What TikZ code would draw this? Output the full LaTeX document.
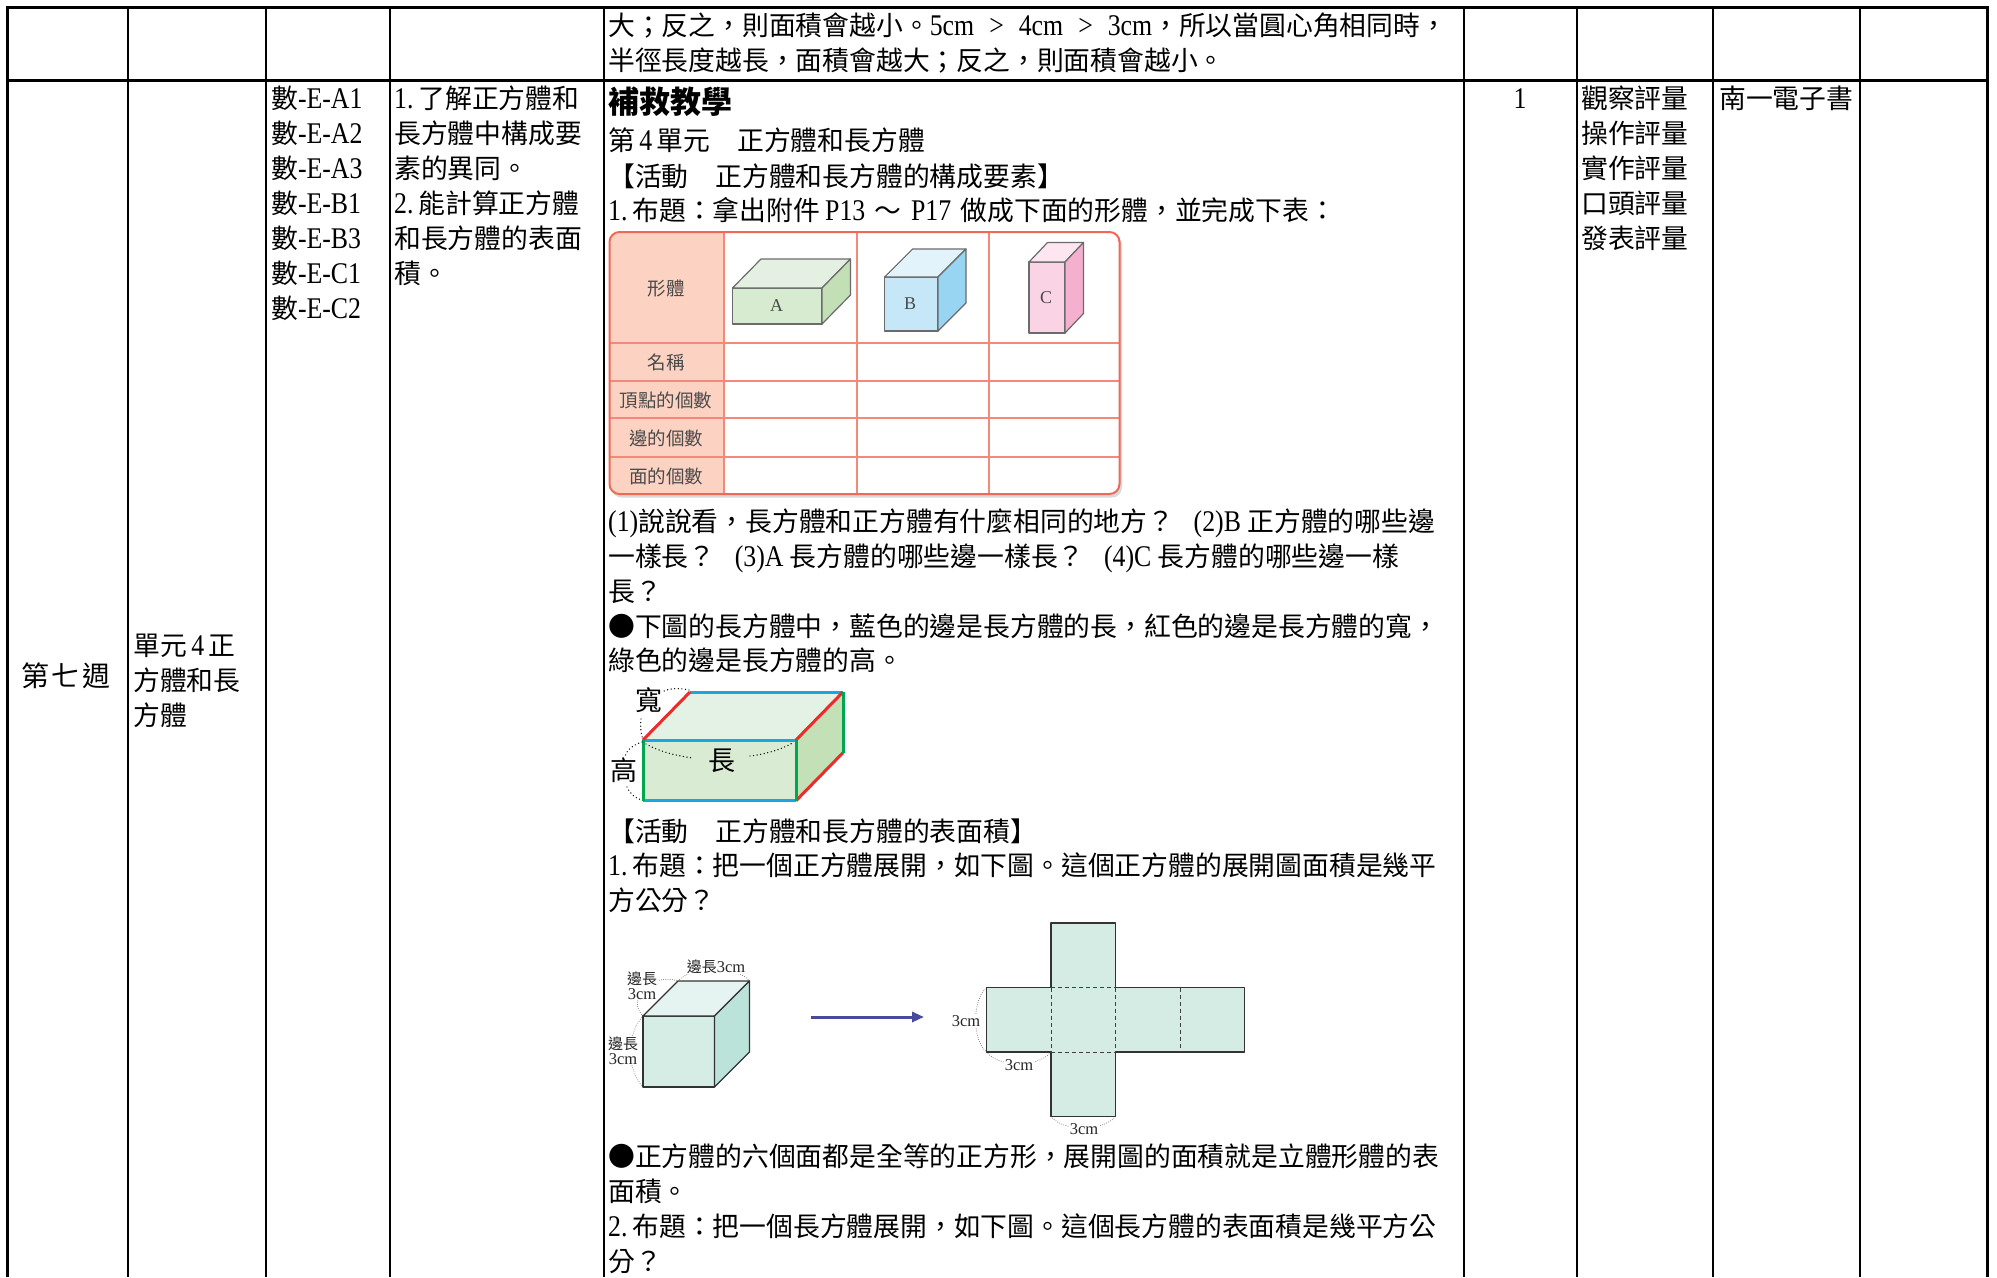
\documentclass[tikz,border=0pt]{standalone}
\usepackage{fontspec}
\setmainfont{Noto Sans CJK TC}
\newfontfamily\latfont{Liberation Serif}
\newfontfamily\latbody{Liberation Serif}[Scale=1.12, FakeStretch=0.86]
\usetikzlibrary{arrows.meta}
\newcommand\latn[1]{{\latbody #1}}
\newcommand\fsm{\fontsize{26.8pt}{35pt}\selectfont}
\definecolor{hdr}{HTML}{FCD3C2}
\definecolor{tline}{HTML}{F4897A}
\definecolor{tborder}{HTML}{EE6A55}
\definecolor{labc}{HTML}{4A4A4A}
\definecolor{Af}{HTML}{D6EBCF}
\definecolor{At}{HTML}{E4F1E2}
\definecolor{Ar}{HTML}{C2DFB6}
\definecolor{Bf}{HTML}{C6E7F8}
\definecolor{Bt}{HTML}{E2F3FC}
\definecolor{Br}{HTML}{98D5F2}
\definecolor{Cf}{HTML}{FAD4E5}
\definecolor{Ct}{HTML}{FDE6F0}
\definecolor{Cr}{HTML}{F4B0CF}
\definecolor{eblue}{HTML}{1BA6E0}
\definecolor{ered}{HTML}{EE2A2A}
\definecolor{egreen}{HTML}{00A650}
\definecolor{Lf}{HTML}{D9ECD3}
\definecolor{Lt}{HTML}{E4F2E5}
\definecolor{Lr}{HTML}{C3E0B7}
\definecolor{Kf}{HTML}{D6EDE6}
\definecolor{Kt}{HTML}{E6F4F1}
\definecolor{Kr}{HTML}{BCE3DA}
\definecolor{netc}{HTML}{D5ECE4}
\definecolor{arrc}{HTML}{4A4A9C}
\tikzset{
  t/.style={anchor=west, inner sep=0pt, font=\fsm, text height=23.6pt, text depth=3.2pt},
  tc/.style={t, anchor=center},
  gridthick/.style={line width=3pt},
  gridthin/.style={line width=2.2pt},
  lab/.style={inner sep=0pt, font=\fontsize{18.5pt}{20pt}\selectfont, text=labc, text height=16.3pt, text depth=2.2pt},
  abc/.style={inner sep=0pt, font=\latfont\fontsize{18pt}{20pt}\selectfont, text=labc},
  boxedge/.style={draw=black!58, line width=1.2pt, line join=round},
  cubeedge/.style={draw=black!80, line width=1.3pt, line join=round},
  dotline/.style={line width=1.4pt, line cap=round, dash pattern=on 0pt off 3.6pt},
  cdots/.style={draw=black!55, line width=1pt, line cap=round, dash pattern=on 0pt off 2.2pt},
  clab/.style={inner sep=0.5pt, fill=white, align=center, font=\fontsize{15pt}{17pt}\selectfont, text=black!85},
  big/.style={inner sep=0pt, font=\fontsize{27pt}{30pt}\selectfont},
}
\newcommand\cuboid[9]{%
  \filldraw[fill=#7, boxedge] (#1,#2) rectangle ++(#3,#4);
  \filldraw[fill=#8, boxedge] (#1,#2) -- ++(#5,-#6) -- ++(#3,0) -- ++(-#5,#6) -- cycle;
  \filldraw[fill=#9, boxedge] (#1+#3,#2) -- ++(#5,-#6) -- ++(0,#4) -- ++(-#5,#6) -- cycle;
}
\begin{document}
\begin{tikzpicture}[x=1pt,y=-1pt]
\useasboundingbox (0,0) rectangle (1997,1277);
\fill[white] (0,0) rectangle (1997,1277);

% ---------- table grid ----------
\draw[gridthick] (6,7) -- (1988,7);
\draw[gridthick] (6,80) -- (1988,80);
\draw[gridthick] (7,6) -- (7,1277);
\foreach \x in {128,266,390,1577,1713,1860}{\draw[gridthin] (\x,7) -- (\x,1277);}
\foreach \x in {604,1464}{\draw[line width=1.7pt] (\x,7) -- (\x,1277);}
\draw[gridthick] (1987,6) -- (1987,1277);

% ---------- top row ----------
\node[t] (r0a) at (608,25) {大；反之，則面積會越小。\latn{5cm\hspace{15pt}>\hspace{15pt}4cm\hspace{15pt}>\hspace{15pt}3cm}，所以當圓心角相同時，};
\node[t] (r0b) at (608,60) {半徑長度越長，面積會越大；反之，則面積會越小。};

% ---------- left columns ----------
\node[tc, font=\fontsize{28pt}{35pt}\selectfont, text height=24.6pt, text depth=3.4pt] (wk) at (66,676) {第\hspace{3pt}七\hspace{3pt}週};
\node[t] (u1) at (133,645) {單元\,\latn{4}\,正};
\node[t] (u2) at (133,680) {方體和長};
\node[t] (u3) at (133,715) {方體};

\node[t] (c31) at (271,98) {數\latn{-E-A1}};
\node[t] (c32) at (271,133) {數\latn{-E-A2}};
\node[t] (c33) at (271,168) {數\latn{-E-A3}};
\node[t] (c34) at (271,203) {數\latn{-E-B1}};
\node[t] (c35) at (271,238) {數\latn{-E-B3}};
\node[t] (c36) at (271,273) {數\latn{-E-C1}};
\node[t] (c37) at (271,308) {數\latn{-E-C2}};

\node[t] (c41) at (394,98) {\latn{1.\,}了解正方體和};
\node[t] (c42) at (394,133) {長方體中構成要};
\node[t] (c43) at (394,168) {素的異同。};
\node[t] (c44) at (394,203) {\latn{2.\,}能計算正方體};
\node[t] (c45) at (394,238) {和長方體的表面};
\node[t] (c46) at (394,273) {積。};

% ---------- right columns ----------
\node[tc] (c6) at (1520,98) {\latn{1}};
\node[t] (c71) at (1581,98) {觀察評量};
\node[t] (c72) at (1581,133) {操作評量};
\node[t] (c73) at (1581,168) {實作評量};
\node[t] (c74) at (1581,203) {口頭評量};
\node[t] (c75) at (1581,238) {發表評量};
\node[t] (c8) at (1719,98) {南一電子書};

% ---------- main column ----------
\node[t, font=\fontsize{31pt}{35pt}\selectfont\bfseries, text height=27pt, text depth=3.7pt] (m1) at (608,102) {補救教學};
\node[t] (m2) at (608,140) {第\,\latn{4}\,單元　正方體和長方體};
\node[t] (m3) at (608,176) {【活動　正方體和長方體的構成要素】};
\node[t] (m4) at (608,210) {\latn{1.\,}布題：拿出附件\latn{\,P13\,}\,～\,\latn{\,P17\,}\,做成下面的形體，並完成下表：};

% ---------- table figure ----------
\fill[black!15, rounded corners=10pt] (611.5,235) rectangle (1122,497.5);
\fill[white, rounded corners=10pt] (609.5,232) rectangle (1119.5,494);
\begin{scope}
  \clip[rounded corners=10pt] (609.5,232) rectangle (1119.5,494);
  \fill[hdr] (609.5,232) rectangle (724,494);
\end{scope}
\foreach \y in {343,381,418,457}{\draw[tline, line width=1.6pt] (609.5,\y) -- (1119.5,\y);}
\foreach \x in {724,857,989}{\draw[tline, line width=1.6pt] (\x,232) -- (\x,494);}
\draw[tborder, line width=2pt, rounded corners=10pt] (609.5,232) rectangle (1119.5,494);
\node[lab] (lb1) at (666,288) {形體};
\node[lab] (lb2) at (666,362) {名稱};
\node[lab] (lb3) at (666,400) {頂點的個數};
\node[lab] (lb4) at (666,438) {邊的個數};
\node[lab] (lb5) at (666,476) {面的個數};
\cuboid{732.5}{288}{89.5}{36}{28.5}{29}{Af}{At}{Ar}
\cuboid{884.6}{277}{53.4}{54}{28}{28}{Bf}{Bt}{Br}
\cuboid{1029}{262}{36}{71}{18.5}{19.5}{Cf}{Ct}{Cr}
\node[abc] (la) at (776.5,306) {A};
\node[abc] (lbb) at (910,304) {B};
\node[abc] (lc) at (1046,298) {C};

% ---------- questions ----------
\node[t] (m5) at (608,521) {\latn{(1)}說說看，長方體和正方體有什麼相同的地方？\latn{\ \ \ (2)B\ }正方體的哪些邊};
\node[t] (m6) at (608,556) {一樣長？\latn{\ \ \ (3)A\ }長方體的哪些邊一樣長？\latn{\ \ \ (4)C\ }長方體的哪些邊一樣};
\node[t] (m7) at (608,591) {長？};
\node[t] (m8) at (608,626) {●下圖的長方體中，藍色的邊是長方體的長，紅色的邊是長方體的寬，};
\node[t] (m9) at (608,660) {綠色的邊是長方體的高。};

% ---------- coloured cuboid ----------
\fill[Lf] (643,740) rectangle (796,800.7);
\fill[Lt] (643,740) -- (690,692) -- (843,692) -- (796,740) -- cycle;
\fill[Lr] (796,740) -- (843,692) -- (843,752.7) -- (796,800.7) -- cycle;
\draw[eblue, line width=3pt] (690,692) -- (843,692);
\draw[eblue, line width=3pt] (643,740) -- (796,740);
\draw[eblue, line width=3pt] (643,800.7) -- (796,800.7);
\draw[ered, line width=3pt] (643,740) -- (690,692);
\draw[ered, line width=3pt] (796,740) -- (843,692);
\draw[ered, line width=3pt] (796,800.7) -- (843,752.7);
\draw[egreen, line width=3pt] (643,740) -- (643,800.7);
\draw[egreen, line width=3pt] (796,740) -- (796,800.7);
\draw[egreen, line width=3pt] (843,692) -- (843,752.7);
\draw[dotline] (689,690) .. controls (680,688) and (671,688) .. (664,691);
\draw[dotline] (641,719) .. controls (640,727) and (641,734) .. (643,740);
\draw[dotline] (642,742) .. controls (633,745) and (627,750) .. (625,756);
\draw[dotline] (627,787) .. controls (630,794) and (636,799) .. (642,800);
\draw[dotline] (646,744) .. controls (660,752) and (678,756) .. (693,758);
\draw[dotline] (750,756) .. controls (768,754) and (785,748) .. (794,742);
\node[big] (kuan) at (649,700) {寬};
\node[big] (gao) at (624,770) {高};
\node[big] (chang) at (721.5,761) {長};

% ---------- surface area ----------
\node[t] (m10) at (608,831) {【活動　正方體和長方體的表面積】};
\node[t] (m11) at (608,865) {\latn{1.\,}布題：把一個正方體展開，如下圖。這個正方體的展開圖面積是幾平};
\node[t] (m12) at (608,900) {方公分？};

% cube with dimension arcs
\draw[cdots] (678,981) .. controls (690,966) and (738,966) .. (749.5,981);
\draw[cdots] (643,1016) .. controls (626,1000) and (650,972) .. (678,981);
\draw[cdots] (643,1016) .. controls (626,1035) and (626,1068) .. (643,1087);
\node[clab] (ct) at (716,967) {邊長\latfont\fontsize{16.5pt}{17pt}\selectfont 3cm};
\node[clab] (cl1) at (642,986) {邊長\\[-2pt]{\latfont\fontsize{16.5pt}{17pt}\selectfont 3cm}};
\node[clab] (cl2) at (623,1051) {邊長\\[-2pt]{\latfont\fontsize{16.5pt}{17pt}\selectfont 3cm}};
\filldraw[fill=Kf, cubeedge] (643,1016) rectangle (714.5,1087);
\filldraw[fill=Kt, cubeedge] (643,1016) -- (678,981) -- (749.5,981) -- (714.5,1016) -- cycle;
\filldraw[fill=Kr, cubeedge] (714.5,1016) -- (749.5,981) -- (749.5,1052) -- (714.5,1087) -- cycle;

% arrow
\coordinate (arA) at (810.5,1017);
\coordinate (arB) at (924,1017);
\draw[arrc, line width=3pt, -{Triangle[length=12pt,width=10pt]}] (arA) -- (arB);

% net
\draw[cdots] (986.5,987.5) .. controls (972,1000) and (972,1040) .. (986.5,1052);
\draw[cdots] (986.5,1052) .. controls (999,1068) and (1038,1068) .. (1051,1052);
\draw[cdots] (1051,1116.5) .. controls (1064,1132) and (1102,1132) .. (1115.5,1116.5);
\node[clab, font=\latfont\fontsize{16.5pt}{17pt}\selectfont] (n1) at (966,1021) {3cm};
\node[clab, font=\latfont\fontsize{16.5pt}{17pt}\selectfont] (n2) at (1019,1065) {3cm};
\node[clab, font=\latfont\fontsize{16.5pt}{17pt}\selectfont] (n3) at (1084,1129) {3cm};
\filldraw[fill=netc, cubeedge, line width=1.2pt] (1051,923) -- (1115.5,923) -- (1115.5,987.5) -- (1244.5,987.5) -- (1244.5,1052) -- (1115.5,1052) -- (1115.5,1116.5) -- (1051,1116.5) -- (1051,1052) -- (986.5,1052) -- (986.5,987.5) -- (1051,987.5) -- cycle;
\begin{scope}[draw=black!75, line width=1pt, dash pattern=on 4pt off 3pt]
  \draw (1051,987.5) -- (1115.5,987.5);
  \draw (1051,1052) -- (1115.5,1052);
  \draw (1051,987.5) -- (1051,1052);
  \draw (1115.5,987.5) -- (1115.5,1052);
  \draw (1180,987.5) -- (1180,1052);
\end{scope}

% ---------- bottom text ----------
\node[t] (m13) at (608,1156) {●正方體的六個面都是全等的正方形，展開圖的面積就是立體形體的表};
\node[t] (m14) at (608,1191) {面積。};
\node[t] (m15) at (608,1226) {\latn{2.\,}布題：把一個長方體展開，如下圖。這個長方體的表面積是幾平方公};
\node[t] (m16) at (608,1261) {分？};
\end{tikzpicture}
\end{document}
